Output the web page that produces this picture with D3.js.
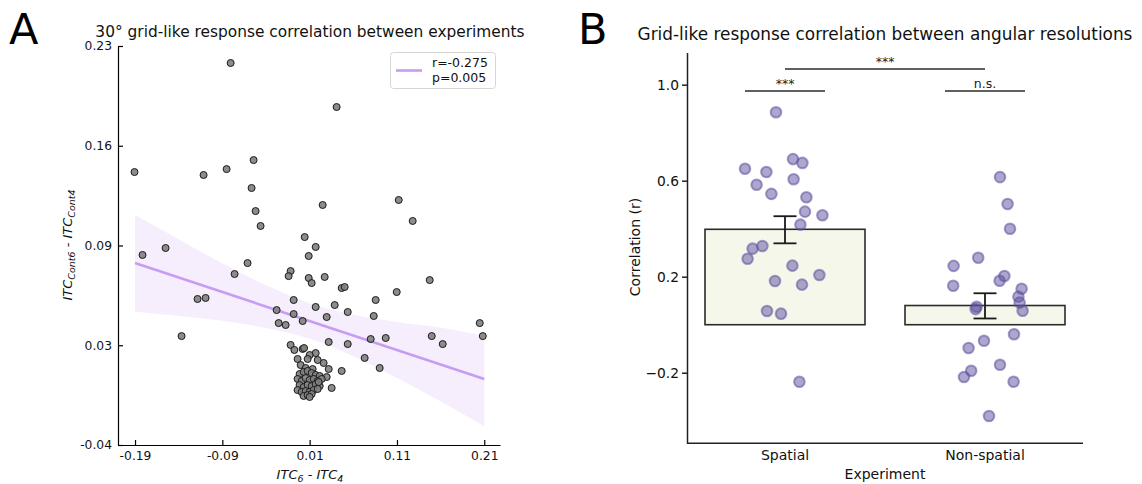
<!DOCTYPE html>
<html><head><meta charset="utf-8">
<script src="https://cdn.jsdelivr.net/npm/d3@7"></script>
<style>body{margin:0;background:#fff;} svg{font-family:"DejaVu Sans",sans-serif;}</style>
</head><body><svg id="chart" width="1142" height="484"></svg>
<script>
// ---------- Panel A data ----------
const scatterX = [-0.0805,0.0409,-0.1906,-0.1115,-0.0851,-0.0542,-0.0565,-0.0519,-0.0462,0.0249,0.0043,0.112,0.128,
 -0.1814,-0.155,0.0169,0.0089,-0.0611,-0.076,-0.0118,-0.0141,0.0089,0.0123,0.0272,-0.1184,-0.1092,-0.0083,-0.0278,
 -0.0083,0.0169,0.0295,-0.0255,-0.0175,0.002,-0.1367,0.0318,0.0467,0.0501,0.1475,0.1097,0.0856,0.0387,0.0536,0.0834,
 0.2048,0.2083,0.1498,0.1624,0.0971,0.0799,0.0536,0.073,0.0902,0.0467,0.0352,0.0295,0.0318,0.026,0.0192,0.0169,0.01,
 -0.0118,-0.0075,0.002,0.0036,-0.0038,0.0077,-0.0003,0.0134,0.0054,
 -0.0015,0.0031,0.0077,0.0123,0.0169,0.0215,-0.0038,0.0008,0.0054,0.01,0.0146,0.0192,0.0238,-0.0015,0.0031,0.0077,
 0.0123,0.0169,0.0215,-0.0038,0.0008,0.0054,0.01,0.0146,0.0192,0.0031,0.0077,0.0123,0.01,0.0203];
const scatterY = [0.2185,0.1887,0.1447,0.1427,0.1467,0.1528,0.1339,0.1183,0.1082,0.1224,0.1007,0.1258,0.1116,
 0.0886,0.0933,0.094,0.0879,0.0831,0.0757,0.0777,0.0743,0.073,0.0696,0.0737,0.0588,0.0595,0.0581,0.0513,
 0.0486,0.0534,0.0466,0.0425,0.0412,0.0439,0.0337,0.0297,0.0662,0.0669,0.0716,0.0635,0.0581,0.0547,0.05,0.0473,
 0.0425,0.0337,0.0337,0.0283,0.0324,0.0317,0.0283,0.0189,0.0121,0.0101,-0.0014,0.006,0.0114,0.0155,0.0175,0.0222,0.0209,
 0.0277,0.0243,0.025,0.0256,0.0182,0.0182,0.0141,0.0114,0.0121,
 0.008,0.0094,0.0101,0.0087,0.0074,0.0067,0.0047,0.0033,0.0053,0.004,0.0047,0.0033,0.0047,0.0006,-0.0008,0.0006,
 -0.0001,0.0013,-0.0001,-0.0028,-0.0041,-0.0035,-0.0041,-0.0028,-0.0021,-0.0068,-0.0062,-0.0055,-0.0075,0.0026];
const fitX = [-0.19, 0.21];
const fitY = [0.0831, 0.0047];
const bandX = [-0.19,-0.14,-0.09,-0.04,0.01,0.06,0.11,0.16,0.21];
const bandHigh = [0.1156,0.0993,0.083,0.0682,0.0559,0.0481,0.0433,0.0395,0.0337];
const bandLow  = [0.0502,0.0473,0.044,0.0392,0.0319,0.0201,0.0053,-0.0105,-0.0273];
const xTicksA = [-0.19,-0.09,0.01,0.11,0.21];
const xTickLabelsA = ["-0.19","-0.09","0.01","0.11","0.21"];
const yTicksA = [-0.04,0.0275,0.095,0.1625,0.23];
const yTickLabelsA = ["-0.04","0.03","0.09","0.16","0.23"];
const legendLabels = ["r=-0.275","p=0.005"];
const titleA = "30° grid-like response correlation between experiments";

// ---------- Panel B data ----------
const categories = ["Spatial","Non-spatial"];
const spatialValues = [0.885,0.690,0.674,0.65,0.636,0.606,0.583,0.545,0.531,0.471,0.456,0.417,0.328,0.317,0.275,0.246,0.207,0.182,0.167,0.057,0.046,-0.2375];
const spatialJitter = [-0.045,0.04,0.087,-0.2,-0.093,0.043,-0.142,-0.068,0.107,0.1,0.187,0.077,-0.113,-0.162,-0.187,0.037,0.172,-0.05,0.085,-0.09,-0.02,0.072];
const nonSpatialValues = [0.615,0.503,0.4,0.279,0.245,0.203,0.183,0.1625,0.15,0.117,0.092,0.058,0.075,0.065,-0.04,-0.067,-0.097,-0.167,-0.192,-0.218,-0.2375,-0.38];
const nonSpatialJitter = [0.075,0.113,0.125,-0.034,-0.157,0.097,0.073,-0.159,0.183,0.167,0.173,0.188,-0.042,-0.047,0.145,-0.005,-0.082,0.075,-0.069,-0.105,0.143,0.02];
const barMeans = [0.3975, 0.08];
const errLow = [0.339, 0.026];
const errHigh = [0.452, 0.131];
const yTicksB = [-0.2,0.2,0.6,1.0];
const yTickLabelsB = ["\u22120.2","0.2","0.6","1.0"];
const sigPairs = [
  {from:0, to:0, level:0.974, label:"***", within:true},
  {from:1, to:1, level:0.974, label:"n.s.", within:true},
  {from:0, to:1, level:1.065, label:"***", within:false}
];
const titleB = "Grid-like response correlation between angular resolutions";

const svg = d3.select("#chart");

// ================= Panel A =================
const xA = d3.scaleLinear().domain([-0.2095, 0.228]).range([118, 500]);
const yA = d3.scaleLinear().domain([-0.04, 0.23]).range([445, 46]);
const gA = svg.append("g");

const purple = "#c89cf3";
const bandData = bandX.map((x,i)=>({x, lo:bandLow[i], hi:bandHigh[i]}));
gA.append("path").datum(bandData)
  .attr("d", d3.area().x(d=>xA(d.x)).y0(d=>yA(d.lo)).y1(d=>yA(d.hi)).curve(d3.curveMonotoneX))
  .attr("fill", purple).attr("fill-opacity", 0.17);
gA.append("path").datum(fitX.map((x,i)=>({x, y:fitY[i]})))
  .attr("d", d3.line().x(d=>xA(d.x)).y(d=>yA(d.y)))
  .attr("stroke", purple).attr("stroke-width", 2.6).attr("fill","none");

gA.selectAll("circle.pt").data(scatterX.map((x,i)=>({x, y:scatterY[i]}))).enter()
  .append("circle").attr("class","pt")
  .attr("cx", d=>xA(d.x)).attr("cy", d=>yA(d.y)).attr("r", 3.5)
  .attr("fill", "#808080").attr("fill-opacity", 0.9)
  .attr("stroke", "#1a1a1a").attr("stroke-width", 1);

const axLeftA = gA.append("g").attr("transform","translate(118,0)")
  .call(d3.axisLeft(yA).tickValues(yTicksA).tickFormat((d,i)=>yTickLabelsA[i]).tickSizeInner(-5).tickSizeOuter(0).tickPadding(6));
const axBotA = gA.append("g").attr("transform","translate(0,445)")
  .call(d3.axisBottom(xA).tickValues(xTicksA).tickFormat((d,i)=>xTickLabelsA[i]).tickSizeInner(-5).tickSizeOuter(0).tickPadding(6));
[axLeftA, axBotA].forEach(a=>{
  a.selectAll("text").attr("font-family","DejaVu Sans").attr("font-size",12.3).attr("fill","#111");
  a.selectAll("line,path").attr("stroke","#000").attr("stroke-width",1.2);
});

// legend
const lg = gA.append("g");
lg.append("rect").attr("x",390.5).attr("y",52.5).attr("width",105).attr("height",36).attr("rx",3)
  .attr("fill","#fff").attr("fill-opacity",0.8).attr("stroke","#d6d6d6").attr("stroke-width",1);
lg.append("line").attr("x1",396).attr("x2",422).attr("y1",70.5).attr("y2",70.5).attr("stroke",purple).attr("stroke-width",2.6);
lg.selectAll("text").data(legendLabels).enter().append("text")
  .attr("x",432).attr("y",(d,i)=>66.5+i*15).attr("font-size",12.5).attr("fill","#111").text(d=>d);

// title & labels A
svg.append("text").attr("x",310).attr("y",36.5).attr("text-anchor","middle").attr("font-size",15.4).attr("fill","#111").text(titleA);
svg.append("text").attr("x",9).attr("y",44).attr("font-size",43).attr("fill","#000").text("A");

const xlab = svg.append("text").attr("x",310).attr("y",479).attr("text-anchor","middle").attr("font-size",13).attr("fill","#111");
xlab.append("tspan").attr("font-style","italic").text("ITC");
xlab.append("tspan").attr("font-style","italic").attr("font-size",9.5).attr("dy",3).text("6");
xlab.append("tspan").attr("dy",-3).text(" - ");
xlab.append("tspan").attr("font-style","italic").text("ITC");
xlab.append("tspan").attr("font-style","italic").attr("font-size",9.5).attr("dy",3).text("4");

const ylab = svg.append("text").attr("transform","translate(72,245) rotate(-90)").attr("text-anchor","middle").attr("font-size",13).attr("fill","#111");
ylab.append("tspan").attr("font-style","italic").text("ITC");
ylab.append("tspan").attr("font-style","italic").attr("font-size",9.5).attr("dy",3).text("Cont6");
ylab.append("tspan").attr("dy",-3).text(" - ");
ylab.append("tspan").attr("font-style","italic").text("ITC");
ylab.append("tspan").attr("font-style","italic").attr("font-size",9.5).attr("dy",3).text("Cont4");

// ================= Panel B =================
const xB = d3.scaleBand().domain(categories).range([685, 1085]).padding(0);
const yB = d3.scaleLinear().domain([-0.494, 1.134]).range([443.3, 52.5]);
const gB = svg.append("g");
const step = xB.step();
const cx = c => xB(c) + xB.bandwidth()/2;
const barW = 0.8*xB.bandwidth();

gB.selectAll("rect.bar").data(categories).enter().append("rect").attr("class","bar")
  .attr("x", c=>cx(c)-barW/2).attr("width", barW)
  .attr("y", (c,i)=>yB(barMeans[i])).attr("height", (c,i)=>yB(0)-yB(barMeans[i]))
  .attr("fill","#f5f7ea").attr("stroke","#2b2b2b").attr("stroke-width",1.6);

const ptsB = [];
spatialValues.forEach((v,i)=>ptsB.push({c:categories[0], v, j:spatialJitter[i]}));
nonSpatialValues.forEach((v,i)=>ptsB.push({c:categories[1], v, j:nonSpatialJitter[i]}));
gB.selectAll("circle.ptb").data(ptsB).enter().append("circle").attr("class","ptb")
  .attr("cx", d=>cx(d.c)+d.j*step).attr("cy", d=>yB(d.v)).attr("r",5.3)
  .attr("fill","#5b4f9e").attr("fill-opacity",0.5)
  .attr("stroke","#5b4f9e").attr("stroke-opacity",0.55).attr("stroke-width",2);

// error bars
categories.forEach((c,i)=>{
  const x = cx(c);
  const g = gB.append("g").attr("stroke","#1a1a1a").attr("stroke-width",1.8);
  g.append("line").attr("x1",x).attr("x2",x).attr("y1",yB(errLow[i])).attr("y2",yB(errHigh[i]));
  g.append("line").attr("x1",x-11.5).attr("x2",x+11.5).attr("y1",yB(errLow[i])).attr("y2",yB(errLow[i]));
  g.append("line").attr("x1",x-11.5).attr("x2",x+11.5).attr("y1",yB(errHigh[i])).attr("y2",yB(errHigh[i]));
});

// significance
sigPairs.forEach(s=>{
  const x1 = s.within ? cx(categories[s.from]) - 0.2*step : cx(categories[s.from]);
  const x2 = s.within ? cx(categories[s.to]) + 0.2*step : cx(categories[s.to]);
  const y = yB(s.level);
  gB.append("line").attr("x1",x1).attr("x2",x2).attr("y1",y).attr("y2",y).attr("stroke","#2b2b2b").attr("stroke-width",1.5);
  gB.append("text").attr("x",(x1+x2)/2).attr("y",y-3).attr("text-anchor","middle").attr("font-size",12.5).attr("fill","#222").text(s.label);
});

// axes B
const axLeftB = gB.append("g").attr("transform","translate(687,0)")
  .call(d3.axisLeft(yB).tickValues(yTicksB).tickFormat((d,i)=>yTickLabelsB[i]).tickSizeInner(5).tickSizeOuter(0).tickPadding(3));
axLeftB.selectAll("text").attr("font-family","DejaVu Sans").attr("font-size",13.8).attr("fill","#111");
axLeftB.selectAll("line,path").attr("stroke","#222").attr("stroke-width",1.5);
gB.append("line").attr("x1",687).attr("x2",1083).attr("y1",443.3).attr("y2",443.3).attr("stroke","#222").attr("stroke-width",1.5);
const axBotB = gB.append("g").attr("transform","translate(0,443.3)")
  .call(d3.axisBottom(xB).tickSize(0).tickPadding(7));
axBotB.select("path.domain").remove();
axBotB.selectAll("text").attr("font-family","DejaVu Sans").attr("font-size",14).attr("fill","#111");

svg.append("text").attr("x",885).attr("y",479).attr("text-anchor","middle").attr("font-size",14).attr("fill","#111").text("Experiment");
svg.append("text").attr("transform","translate(640,247) rotate(-90)").attr("text-anchor","middle").attr("font-size",14).attr("fill","#111").text("Correlation (r)");
svg.append("text").attr("x",885).attr("y",40).attr("text-anchor","middle").attr("font-size",16.9).attr("fill","#111").text(titleB);
svg.append("text").attr("x",578).attr("y",44).attr("font-size",43).attr("fill","#000").text("B");
</script></body></html>
